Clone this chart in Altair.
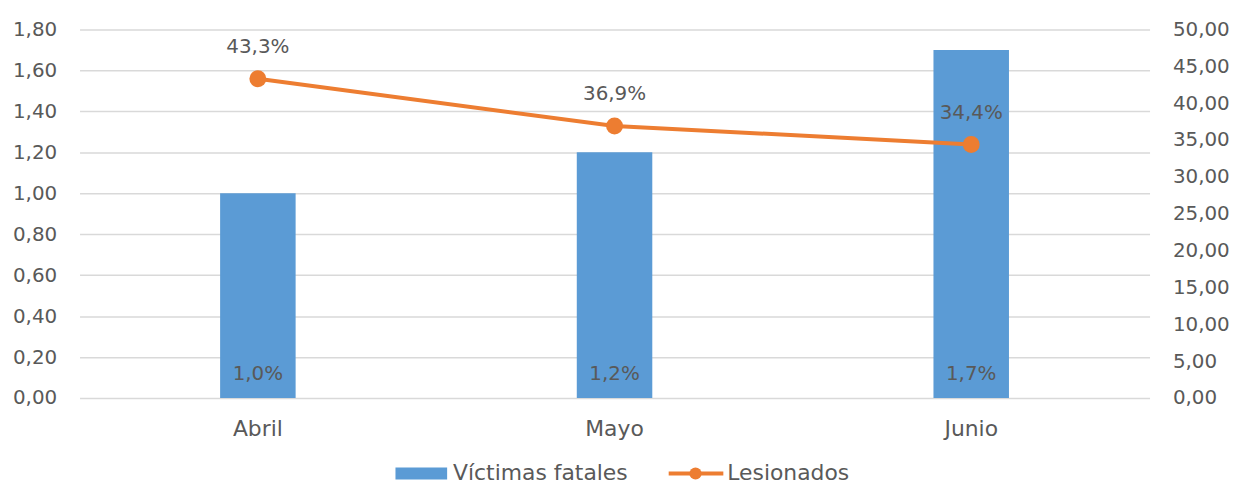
import altair as alt
import pandas as pd

months = ["Abril", "Mayo", "Junio"]
fatales = [1.0, 1.2, 1.7]
lesionados = [43.3, 36.9, 34.4]
left_ticks = [0, 0.2, 0.4, 0.6, 0.8, 1.0, 1.2, 1.4, 1.6, 1.8]
right_ticks = [0, 5, 10, 15, 20, 25, 30, 35, 40, 45, 50]
legend_names = ["Víctimas fatales", "Lesionados"]

df = pd.DataFrame({"mes": months, "fatales": fatales, "lesionados": lesionados})

FONT = "DejaVu Sans"
TXT = "#595959"
BLUE = "#5B9BD5"
ORANGE = "#ED7D31"
W, H = 1077, 371

x_axis = alt.Axis(labelAngle=0, ticks=False, domain=False, labelPadding=21,
                  labelFontSize=22, labelColor=TXT, labelFont=FONT, grid=False)
x_scale = alt.Scale(paddingInner=0, paddingOuter=0)
left_axis = alt.Axis(values=left_ticks, ticks=False, domain=False, labelPadding=23,
                     labelFontSize=20, labelColor=TXT, labelFont=FONT,
                     gridColor="#D9D9D9", gridWidth=1.5, grid=True,
                     labelExpr="replace(format(datum.value, '.2f'), '.', ',')")
left_scale = alt.Scale(domain=[0, 1.8], nice=False)
right_axis = alt.Axis(orient="right", values=right_ticks, ticks=False, domain=False,
                      grid=False, labelPadding=23, labelAlign="left",
                      labelFontSize=20, labelColor=TXT, labelFont=FONT,
                      labelExpr="replace(format(datum.value, '.2f'), '.', ',')")
right_scale = alt.Scale(domain=[0, 50], nice=False)

def X():
    return alt.X("mes:N", sort=months, title=None, scale=x_scale, axis=x_axis)

base = alt.Chart(df)

bars = base.mark_bar(size=76, color=BLUE).encode(
    x=X(),
    y=alt.Y("fatales:Q", title=None, scale=left_scale, axis=left_axis)
)
bar_text = base.transform_calculate(
    lab="replace(format(datum.fatales, '.1f'), '.', ',') + '%'",
    zero="0"
).mark_text(dy=-24, fontSize=20, color=TXT, font=FONT, baseline="middle").encode(
    x=X(),
    y=alt.Y("zero:Q", title=None, scale=left_scale, axis=left_axis),
    text="lab:N"
)

line = base.mark_line(color=ORANGE, strokeWidth=4).encode(
    x=X(),
    y=alt.Y("lesionados:Q", title=None, scale=right_scale, axis=right_axis)
)
pts = base.mark_circle(color=ORANGE, size=290, opacity=1).encode(
    x=X(),
    y=alt.Y("lesionados:Q", title=None, scale=right_scale, axis=right_axis)
)
line_text = base.transform_calculate(
    lab="replace(format(datum.lesionados, '.1f'), '.', ',') + '%'"
).mark_text(dy=-32, fontSize=20, color=TXT, font=FONT, baseline="middle").encode(
    x=X(),
    y=alt.Y("lesionados:Q", title=None, scale=right_scale, axis=right_axis),
    text="lab:N"
)

left_layer = alt.layer(bars, bar_text)
right_layer = alt.layer(line, pts, line_text)

leg_df = pd.DataFrame({"name": legend_names})
leg_y = 447
leg_rect = alt.Chart(leg_df).transform_filter("datum.name == 'Víctimas fatales'").mark_rect(color=BLUE).encode(
    x=alt.value(318), x2=alt.value(370), y=alt.value(leg_y - 6), y2=alt.value(leg_y + 6))
leg_rule = alt.Chart(leg_df).transform_filter("datum.name == 'Lesionados'").mark_rule(color=ORANGE, strokeWidth=4).encode(
    x=alt.value(593), x2=alt.value(648), y=alt.value(leg_y))
leg_dot = alt.Chart(leg_df).transform_filter("datum.name == 'Lesionados'").mark_circle(color=ORANGE, size=150, opacity=1).encode(
    x=alt.value(620), y=alt.value(leg_y))
leg_t1 = alt.Chart(leg_df).transform_filter("datum.name == 'Víctimas fatales'").mark_text(
    align="left", baseline="middle", fontSize=22, color=TXT, font=FONT).encode(
    x=alt.value(376), y=alt.value(leg_y), text="name:N")
leg_t2 = alt.Chart(leg_df).transform_filter("datum.name == 'Lesionados'").mark_text(
    align="left", baseline="middle", fontSize=22, color=TXT, font=FONT).encode(
    x=alt.value(652), y=alt.value(leg_y), text="name:N")

chart = alt.layer(left_layer, right_layer, leg_rect, leg_rule, leg_dot, leg_t1, leg_t2).resolve_scale(
    y="independent"
).properties(
    width=W, height=H,
    autosize=alt.AutoSizeParams(type="none"),
    padding={"left": 72, "top": 20, "right": 85, "bottom": 87}
).configure(background="white", view=alt.ViewConfig(stroke=None))

chart.save("out.html", embed_options={"renderer": "svg", "actions": False})
